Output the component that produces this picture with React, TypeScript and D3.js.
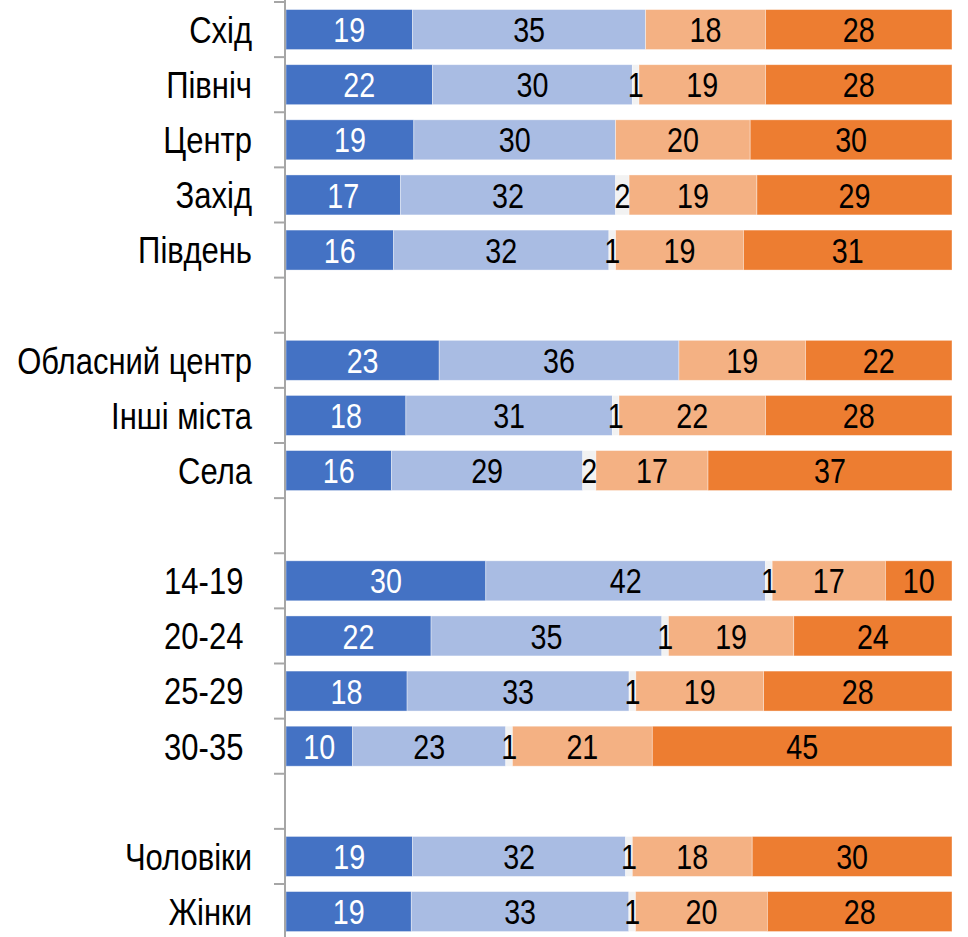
import React from "react";
import * as d3 from "d3";

const categories = [
  "Схід", "Північ", "Центр", "Захід", "Південь", "",
  "Обласний центр", "Інші міста", "Села", " ",
  "14-19\u00A0", "20-24\u00A0", "25-29\u00A0", "30-35\u00A0", "  ",
  "Чоловіки", "Жінки",
];
const darkBlue = [19, 22, 19, 17, 16, 0, 23, 18, 16, 0, 30, 22, 18, 10, 0, 19, 19];
const lightBlue = [35, 30, 30, 32, 32, 0, 36, 31, 29, 0, 42, 35, 33, 23, 0, 32, 33];
const grey = [0, 1, 0, 2, 1, 0, 0, 1, 2, 0, 1, 1, 1, 1, 0, 1, 1];
const lightOrange = [18, 19, 20, 19, 19, 0, 19, 22, 17, 0, 17, 19, 19, 21, 0, 18, 20];
const orange = [28, 28, 30, 29, 31, 0, 22, 28, 37, 0, 10, 24, 28, 45, 0, 30, 28];

const seriesValues = [darkBlue, lightBlue, grey, lightOrange, orange];
const colors = ["#4472C4", "#A9BCE3", "#F2F2F2", "#F4B183", "#ED7D31"];
const labelColors = ["#ffffff", "#000000", "#000000", "#000000", "#000000"];

const W = 968;
const H = 937;
const left = 286;
const right = 952;
const FONT = "'Liberation Sans', Arial, sans-serif";
const SX = 0.82;
const SXL = 0.838;

export default function App() {
  const y = d3.scaleBand<number>()
    .domain(d3.range(categories.length))
    .range([2, 2 + 17 * 55.125])
    .paddingInner(0.275)
    .paddingOuter(0.1375);
  const x = d3.scaleLinear().domain([0, 1]).range([left, right]);

  const rows = categories.map((c, i) => {
    const vals = seriesValues.map((s) => s[i]);
    const total = d3.sum(vals);
    let acc = 0;
    const segs = vals.map((v, k) => {
      const x0 = total ? acc / total : 0;
      acc += v;
      const x1 = total ? acc / total : 0;
      return { v, k, x0, x1 };
    });
    return { c, i, total, segs };
  });

  const step = y.step();
  const boundaries = d3.range(categories.length + 1).map((i) => 2 + i * step);

  return (
    <svg width={W} height={H} style={{ position: "absolute", left: 0, top: 0, background: "#fff" }}>
      {rows.map((r) =>
        r.total > 0 ? (
          <g key={r.i}>
            {r.segs.map((s) =>
              s.v > 0 ? (
                <rect
                  key={s.k}
                  x={x(s.x0)}
                  y={y(r.i)!}
                  width={x(s.x1) - x(s.x0)}
                  height={y.bandwidth()}
                  fill={colors[s.k]}
                  stroke="#ffffff"
                  strokeOpacity={0.5}
                  strokeWidth={0.75}
                />
              ) : null
            )}
            {r.segs.map((s) =>
              s.v > 0 ? (
                <text
                  key={"t" + s.k}
                  transform={`translate(${(x(s.x0) + x(s.x1)) / 2},${y(r.i)! + y.bandwidth() / 2}) scale(${SX},1)`}
                  dy="0.36em"
                  textAnchor="middle"
                  fontFamily={FONT}
                  fontSize={35}
                  fill={labelColors[s.k]}
                >
                  {s.v}
                </text>
              ) : null
            )}
            <text
              transform={`translate(252,${y(r.i)! + y.bandwidth() / 2}) scale(${SXL},1)`}
              dy="0.36em"
              textAnchor="end"
              fontFamily={FONT}
              fontSize={37}
              fill="#000"
              style={{ whiteSpace: "pre" }}
            >
              {r.c}
            </text>
          </g>
        ) : null
      )}
      <line x1={285} x2={285} y1={0} y2={H} stroke="#A6A6A6" strokeWidth={2} />
      {boundaries.map((b, i) => (
        <line key={i} x1={274} x2={285} y1={b} y2={b} stroke="#A6A6A6" strokeWidth={2} />
      ))}
    </svg>
  );
}
